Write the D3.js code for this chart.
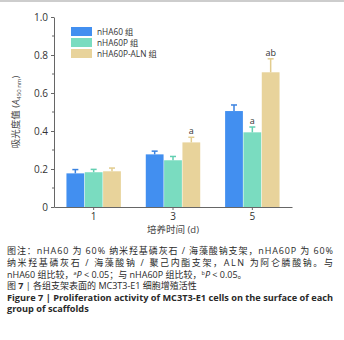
<!DOCTYPE html>
<html>
<head>
<meta charset="utf-8">
<script src="https://cdn.jsdelivr.net/npm/d3@7"></script>
<style>
  body { margin: 0; background: #fff; }
  svg { display: block; }
</style>
</head>
<body>
<div id="chart"></div>
<script>
// data
var days = ["1", "3", "5"];
var seriesNames = ["nHA60 组", "nHA60P 组", "nHA60P-ALN 组"];
var nHA60 = [0.177, 0.277, 0.505];
var nHA60Err = [0.020, 0.017, 0.032];
var nHA60P = [0.183, 0.246, 0.393];
var nHA60PErr = [0.015, 0.020, 0.028];
var nHA60PALN = [0.188, 0.340, 0.709];
var nHA60PALNErr = [0.017, 0.027, 0.071];
var sigP = ["", "", "a"];
var sigALN = ["", "a", "ab"];
var yTicks = [0, 0.2, 0.4, 0.6, 0.8, 1.0];
var yMinor = [0.1, 0.3, 0.5, 0.7, 0.9];

var colors = ["#428ff0", "#7adcc0", "#e8d39b"];
var capColors = ["#3a82e0", "#62cfb1", "#e2cc8e"];

var W = 344, H = 340;
var svg = d3.select("#chart").append("svg")
    .attr("width", W)
    .attr("height", H);

// top rule
svg.append("line")
    .attr("x1", 0).attr("x2", W)
    .attr("y1", 1).attr("y2", 1)
    .attr("stroke", "#bdbdbd").attr("stroke-width", 1.5);

var plotLeft = 54, plotRight = 292, plotTop = 17, plotBottom = 207;

var x = d3.scaleBand()
    .domain(days)
    .range([plotLeft, plotRight])
    .paddingInner(0.3)
    .paddingOuter(0.15);

var xSub = d3.scaleBand()
    .domain(d3.range(seriesNames.length))
    .range([0, x.bandwidth()])
    .padding(0.03);

var y = d3.scaleLinear()
    .domain([0, 1])
    .range([plotBottom, plotTop]);

var rows = days.map(function (d, i) {
    return {
        day: d,
        vals: [
            { s: 0, v: nHA60[i], e: nHA60Err[i], sig: "" },
            { s: 1, v: nHA60P[i], e: nHA60PErr[i], sig: sigP[i] },
            { s: 2, v: nHA60PALN[i], e: nHA60PALNErr[i], sig: sigALN[i] }
        ]
    };
});

var font = "'Open Sans', 'Noto Sans CJK SC', sans-serif";

// bars
var groups = svg.append("g").selectAll("g")
    .data(rows)
    .enter().append("g")
    .attr("transform", function (d) { return "translate(" + x(d.day) + ",0)"; });

var cells = groups.selectAll("g")
    .data(function (d) { return d.vals; })
    .enter().append("g");

cells.append("rect")
    .attr("x", function (d) { return xSub(d.s); })
    .attr("y", function (d) { return y(d.v); })
    .attr("width", xSub.bandwidth())
    .attr("height", function (d) { return plotBottom - y(d.v); })
    .attr("fill", function (d) { return colors[d.s]; });

// error bars
cells.append("line")
    .attr("x1", function (d) { return xSub(d.s) + xSub.bandwidth() / 2; })
    .attr("x2", function (d) { return xSub(d.s) + xSub.bandwidth() / 2; })
    .attr("y1", function (d) { return y(d.v); })
    .attr("y2", function (d) { return y(d.v + d.e); })
    .attr("stroke", function (d) { return capColors[d.s]; })
    .attr("stroke-width", 1.5);

cells.append("line")
    .attr("x1", function (d) { return xSub(d.s) + xSub.bandwidth() / 2 - 3; })
    .attr("x2", function (d) { return xSub(d.s) + xSub.bandwidth() / 2 + 3; })
    .attr("y1", function (d) { return y(d.v + d.e); })
    .attr("y2", function (d) { return y(d.v + d.e); })
    .attr("stroke", function (d) { return capColors[d.s]; })
    .attr("stroke-width", 1.5);

// significance letters
cells.filter(function (d) { return d.sig !== ""; })
    .append("text")
    .attr("x", function (d) { return xSub(d.s) + xSub.bandwidth() / 2; })
    .attr("y", function (d) { return y(d.v + d.e) - 3; })
    .attr("text-anchor", "middle")
    .style("font-family", font)
    .style("font-size", "9px")
    .style("fill", "#333")
    .text(function (d) { return d.sig; });

// axes
var xAxis = svg.append("g")
    .attr("transform", "translate(0," + plotBottom + ")")
    .call(d3.axisBottom(x).tickSize(3).tickSizeOuter(0));

var yAxis = svg.append("g")
    .attr("transform", "translate(" + plotLeft + ",0)")
    .call(d3.axisLeft(y).tickValues(yTicks).tickSize(3).tickSizeOuter(0)
        .tickFormat(function (d) { return d === 0 ? "0" : d3.format(".1f")(d); }));

yAxis.selectAll(".minor")
    .data(yMinor)
    .enter().append("line")
    .attr("class", "minor")
    .attr("x1", -2).attr("x2", 0)
    .attr("y1", function (d) { return y(d); })
    .attr("y2", function (d) { return y(d); })
    .attr("stroke", "#666");

[xAxis, yAxis].forEach(function (a) {
    a.select(".domain").attr("stroke", "#666");
    a.selectAll(".tick line").attr("stroke", "#666");
    a.selectAll(".tick text")
        .style("font-family", font)
        .style("font-size", "10px")
        .style("fill", "#333");
});

// axis titles
var yTitle = svg.append("text")
    .attr("transform", "translate(19," + ((plotTop + plotBottom) / 2) + ") rotate(-90)")
    .attr("text-anchor", "middle")
    .style("font-family", font)
    .style("font-size", "9.5px")
    .style("fill", "#444");
yTitle.append("tspan").text("吸光度值 (");
yTitle.append("tspan").style("font-style", "italic").text("A");
yTitle.append("tspan").attr("baseline-shift", "-25%").style("font-size", "6px").text("450 nm");
yTitle.append("tspan").text(")");

svg.append("text")
    .attr("x", (plotLeft + plotRight) / 2)
    .attr("y", 233)
    .attr("text-anchor", "middle")
    .style("font-family", font)
    .style("font-size", "9.5px")
    .style("fill", "#444")
    .text("培养时间 (d)");

// legend
var legend = svg.append("g").selectAll("g")
    .data(seriesNames)
    .enter().append("g")
    .attr("transform", function (d, i) { return "translate(71," + (27 + i * 11) + ")"; });

legend.append("rect")
    .attr("width", 21).attr("height", 9)
    .attr("fill", function (d, i) { return colors[i]; });

legend.append("text")
    .attr("x", 26).attr("y", 7.5)
    .style("font-family", font)
    .style("font-size", "8.3px")
    .style("fill", "#333")
    .text(function (d) { return d; });

// caption
function capLine(yPos, bold, justify) {
    var t = svg.append("text")
        .attr("x", 7).attr("y", yPos)
        .style("font-family", font)
        .style("font-size", bold ? "9.2px" : "9px")
        .style("font-weight", bold ? "bold" : "normal")
        .style("fill", "#2a2a2a");
    if (justify) t.attr("textLength", 326).attr("lengthAdjust", "spacing");
    return t;
}

capLine(253.5, false, true).text("图注：nHA60 为 60% 纳米羟基磷灰石 / 海藻酸钠支架，nHA60P 为 60%");
capLine(265.5, false, true).text("纳米羟基磷灰石 / 海藻酸钠 / 聚己内酯支架，ALN 为阿仑膦酸钠。与");
var l3 = capLine(277.5, false, false);
l3.append("tspan").text("nHA60 组比较，");
l3.append("tspan").attr("dy", -3).style("font-size", "5.5px").text("a");
l3.append("tspan").attr("dy", 3).style("font-style", "italic").text("P");
l3.append("tspan").text(" < 0.05；与 nHA60P 组比较，");
l3.append("tspan").attr("dy", -3).style("font-size", "5.5px").text("b");
l3.append("tspan").attr("dy", 3).style("font-style", "italic").text("P");
l3.append("tspan").text(" < 0.05。");
var l4 = capLine(289, false, false);
l4.append("tspan").text("图 ");
l4.append("tspan").style("font-weight", "bold").text("7");
l4.append("tspan").text(" | 各组支架表面的 MC3T3-E1 细胞增殖活性");
capLine(300.5, true, true).text("Figure 7  |  Proliferation activity of MC3T3-E1 cells on the surface of each");
capLine(312, true, false).text("group of scaffolds");
</script>
</body>
</html>
